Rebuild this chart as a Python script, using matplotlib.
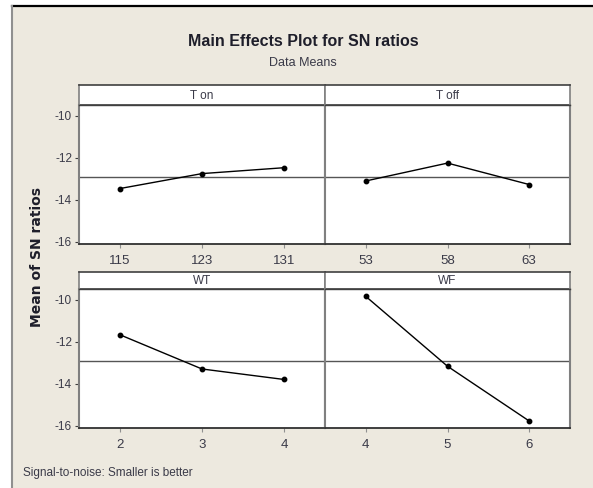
import matplotlib.pyplot as plt
from matplotlib.patches import Rectangle
from matplotlib.lines import Line2D

# Main effects of each factor on the SN ratio (smaller is better)
factors = ['T on', 'T off', 'WT', 'WF']
levels = [['115', '123', '131'],
          ['53', '58', '63'],
          ['2', '3', '4'],
          ['4', '5', '6']]
ton_means = [-13.46, -12.75, -12.47]
toff_means = [-13.10, -12.25, -13.27]
wt_means = [-11.67, -13.30, -13.80]
wf_means = [-9.84, -13.17, -15.78]
grand_mean = -12.93
yticks = [-10, -12, -14, -16]

W, H = 593, 488
BG = '#ede9df'
TXT = '#3a3a48'

plt.rcParams['font.family'] = ['Liberation Sans', 'DejaVu Sans']

fig = plt.figure(figsize=(W / 100, H / 100), dpi=100, facecolor='white')

# beige background panel, as in the Minitab graph window
bg = Rectangle((12 / W, 0), 1 - 12 / W, 1 - 6 / H, transform=fig.transFigure,
               facecolor=BG, edgecolor='none', zorder=-10)
fig.patches.append(bg)
fig.add_artist(Line2D([12 / W, 1], [1 - 6 / H, 1 - 6 / H], color='black', lw=1.6))
fig.add_artist(Line2D([12 / W, 12 / W], [0, 1 - 6 / H], color='#909090', lw=1.5))


def box(x0, x1, y0, y1):
    # pixel box -> figure fraction rect
    return [x0 / W, 1 - y1 / H, (x1 - x0) / W, (y1 - y0) / H]


cols = [(79, 325), (325, 570)]
rows = [(85, 105.3, 244), (271.7, 289.3, 427.7)]
all_means = [ton_means, toff_means, wt_means, wf_means]

for i, name in enumerate(factors):
    r, c = divmod(i, 2)
    x0, x1 = cols[c]
    s0, d0, d1 = rows[r]

    # strip with the factor name
    sax = fig.add_axes(box(x0, x1, s0, d0))
    sax.set_facecolor('white')
    sax.set_xticks([])
    sax.set_yticks([])
    for sp in sax.spines.values():
        sp.set_color('#404040')
        sp.set_linewidth(1.2)
    sax.spines['left'].set_color('#808080')
    sax.spines['right'].set_color('#808080')
    sax.text(0.5, 0.45, name, transform=sax.transAxes, ha='center', va='center',
             fontsize=8.5, color=TXT)

    ax = fig.add_axes(box(x0, x1, d0, d1))
    ax.set_facecolor('white')
    x = list(range(len(levels[i])))
    ax.axhline(grand_mean, color='#555555', lw=1.0, zorder=1)
    ax.plot(x, all_means[i], color='black', lw=1.0, marker='o', markersize=3.2, zorder=3)
    ax.set_xlim(-0.5, 2.5)
    ax.set_ylim(-16.1, -9.5)
    ax.set_xticks(x)
    ax.set_xticklabels(levels[i])
    ax.set_yticks(yticks)
    ax.tick_params(axis='x', direction='out', length=3, width=0.8, color='#909090',
                   labelsize=9.5, labelcolor=TXT, pad=5)
    if c == 0:
        ax.set_yticklabels([str(v) for v in yticks])
        ax.tick_params(axis='y', direction='out', length=3, width=0.8, color='#404040',
                       labelsize=8.5, labelcolor=TXT, pad=2)
    else:
        ax.tick_params(axis='y', left=False, labelleft=False)
    for sp in ax.spines.values():
        sp.set_color('#808080')
        sp.set_linewidth(1.5)
    ax.spines['bottom'].set_color('#303030')
    ax.spines['bottom'].set_linewidth(1.3)
    ax.spines['top'].set_color('#404040')
    ax.spines['top'].set_linewidth(1.0)

fig.text(303 / W, 1 - 41 / H, 'Main Effects Plot for SN ratios', ha='center', va='center',
         fontsize=11.5, fontweight='bold', color='#1e1e2a')
fig.text(303 / W, 1 - 63 / H, 'Data Means', ha='center', va='center',
         fontsize=9, color=TXT)
fig.text(37 / W, 1 - 257 / H, 'Mean of SN ratios', rotation=90, ha='center', va='center',
         fontsize=10, fontweight='bold', color='#1e1e2a', family=['DejaVu Sans'])
fig.text(23 / W, 1 - 473 / H, 'Signal-to-noise: Smaller is better', ha='left', va='center',
         fontsize=8.5, color=TXT)

fig.savefig('out.png', dpi=100, facecolor=fig.get_facecolor())
